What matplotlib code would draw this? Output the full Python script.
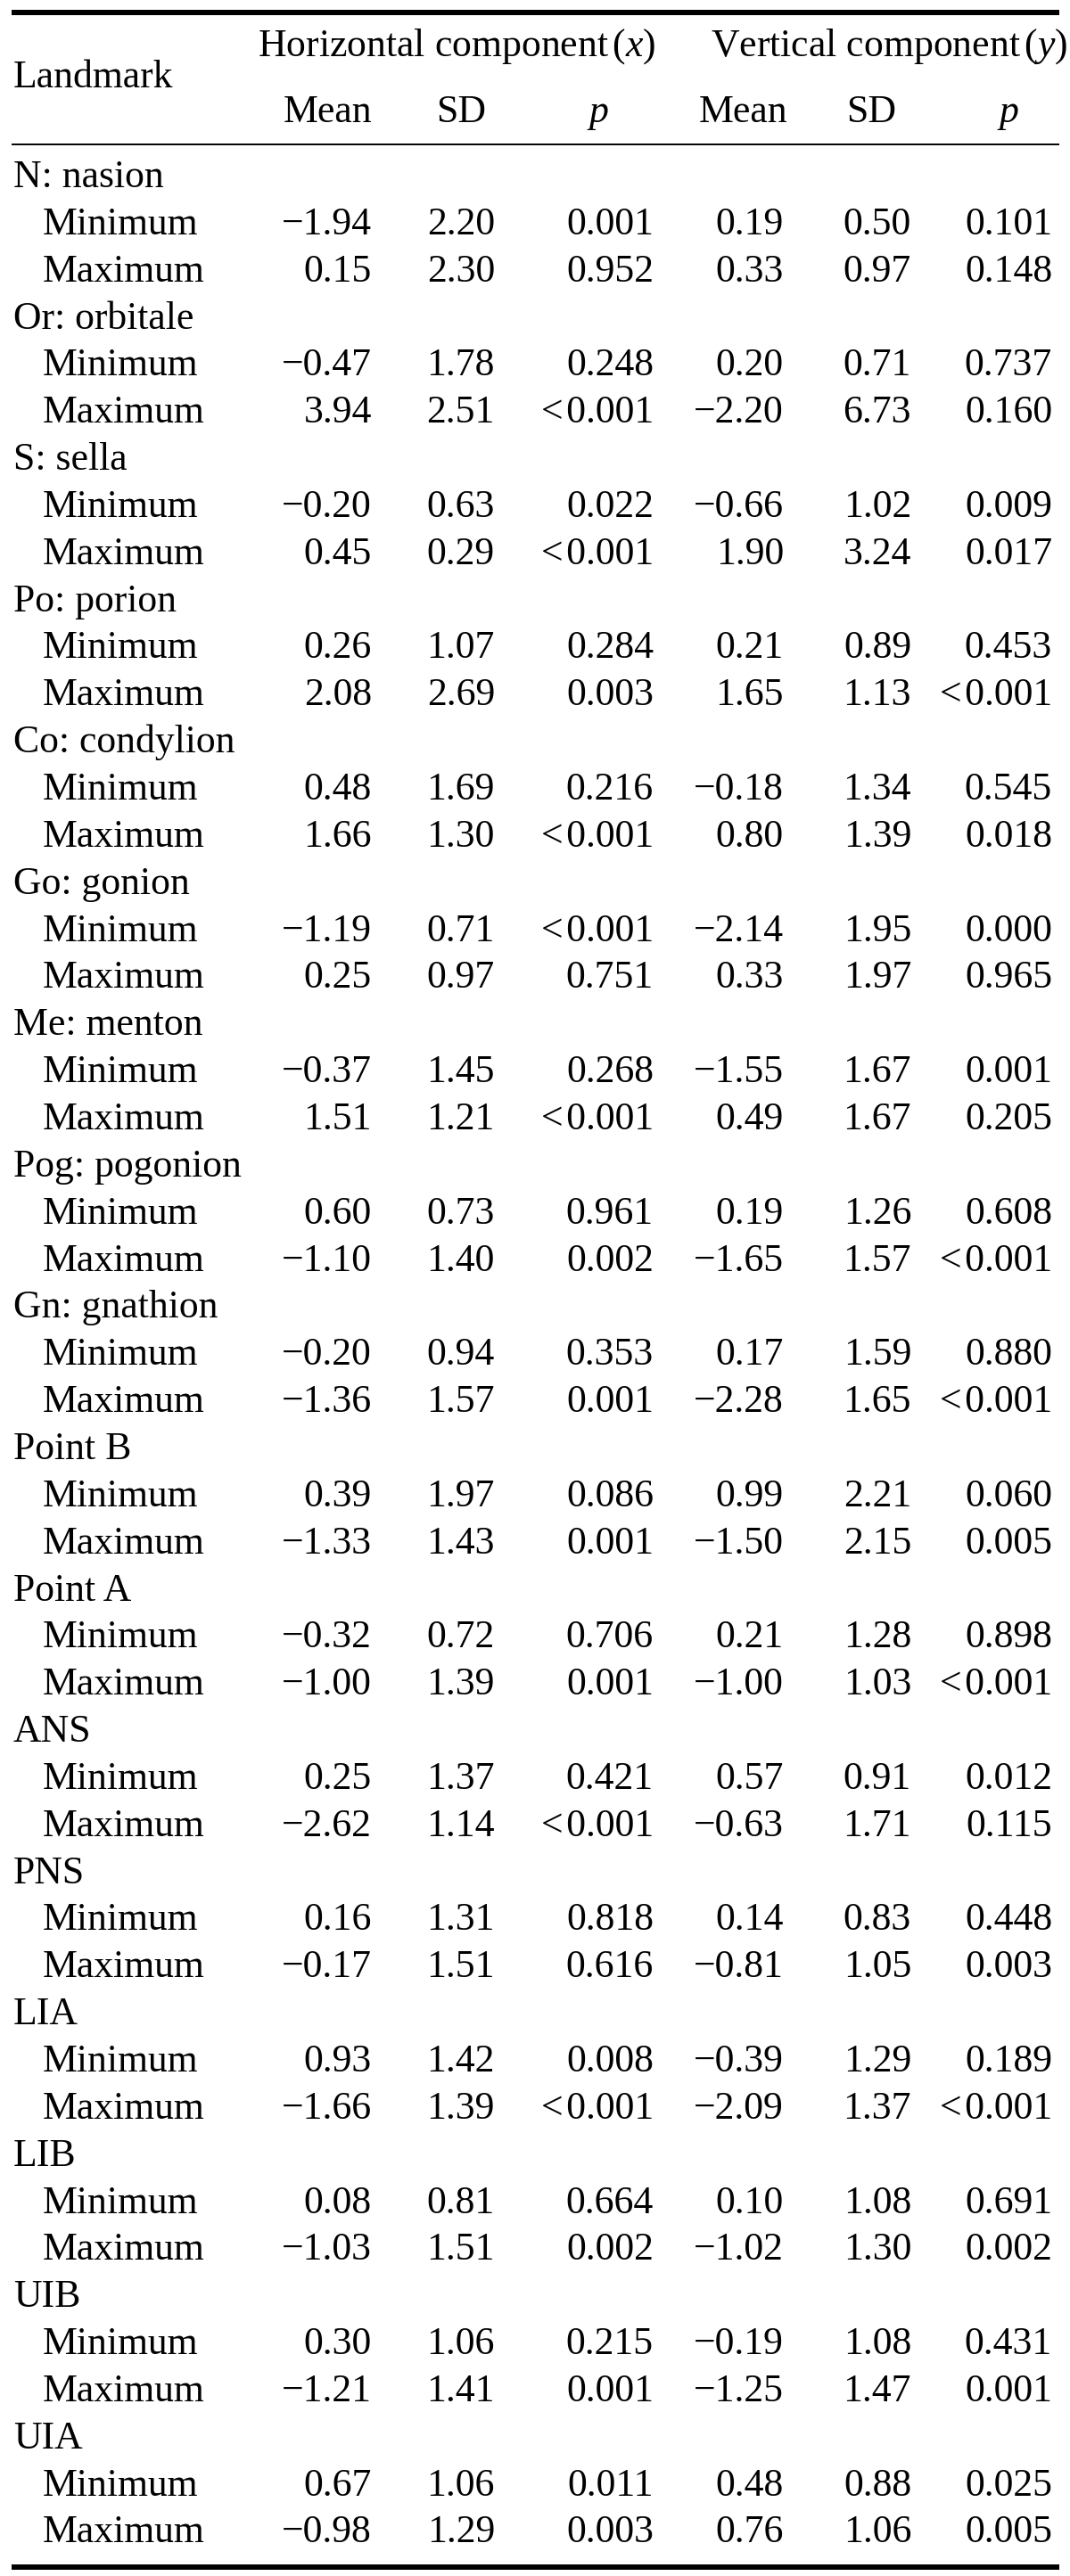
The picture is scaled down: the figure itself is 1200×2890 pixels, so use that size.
import matplotlib.pyplot as plt

plt.rcParams['font.family'] = ['Liberation Serif', 'DejaVu Serif']
plt.rcParams['mathtext.fontset'] = 'custom'
plt.rcParams['mathtext.rm'] = 'Liberation Serif'
plt.rcParams['mathtext.it'] = 'Liberation Serif:italic'

# Tabla: componentes horizontal (x) y vertical (y) por landmark
landmarks = ["N: nasion", "Or: orbitale", "S: sella", "Po: porion", "Co: condylion",
             "Go: gonion", "Me: menton", "Pog: pogonion", "Gn: gnathion", "Point B",
             "Point A", "ANS", "PNS", "LIA", "LIB", "UIB", "UIA"]
row_names = ["Minimum", "Maximum"]
col_headers = ["Mean", "SD", "p", "Mean", "SD", "p"]

# Minimum
x_mean_min = [-1.94, -0.47, -0.20, 0.26, 0.48, -1.19, -0.37, 0.60, -0.20, 0.39, -0.32, 0.25, 0.16, 0.93, 0.08, 0.30, 0.67]
x_sd_min = [2.20, 1.78, 0.63, 1.07, 1.69, 0.71, 1.45, 0.73, 0.94, 1.97, 0.72, 1.37, 1.31, 1.42, 0.81, 1.06, 1.06]
x_p_min = ["0.001", "0.248", "0.022", "0.284", "0.216", "<0.001", "0.268", "0.961", "0.353",
           "0.086", "0.706", "0.421", "0.818", "0.008", "0.664", "0.215", "0.011"]
y_mean_min = [0.19, 0.20, -0.66, 0.21, -0.18, -2.14, -1.55, 0.19, 0.17, 0.99, 0.21, 0.57, 0.14, -0.39, 0.10, -0.19, 0.48]
y_sd_min = [0.50, 0.71, 1.02, 0.89, 1.34, 1.95, 1.67, 1.26, 1.59, 2.21, 1.28, 0.91, 0.83, 1.29, 1.08, 1.08, 0.88]
y_p_min = ["0.101", "0.737", "0.009", "0.453", "0.545", "0.000", "0.001", "0.608", "0.880",
           "0.060", "0.898", "0.012", "0.448", "0.189", "0.691", "0.431", "0.025"]

# Maximum
x_mean_max = [0.15, 3.94, 0.45, 2.08, 1.66, 0.25, 1.51, -1.10, -1.36, -1.33, -1.00, -2.62, -0.17, -1.66, -1.03, -1.21, -0.98]
x_sd_max = [2.30, 2.51, 0.29, 2.69, 1.30, 0.97, 1.21, 1.40, 1.57, 1.43, 1.39, 1.14, 1.51, 1.39, 1.51, 1.41, 1.29]
x_p_max = ["0.952", "<0.001", "<0.001", "0.003", "<0.001", "0.751", "<0.001", "0.002", "0.001",
           "0.001", "0.001", "<0.001", "0.616", "<0.001", "0.002", "0.001", "0.003"]
y_mean_max = [0.33, -2.20, 1.90, 1.65, 0.80, 0.33, 0.49, -1.65, -2.28, -1.50, -1.00, -0.63, -0.81, -2.09, -1.02, -1.25, 0.76]
y_sd_max = [0.97, 6.73, 3.24, 1.13, 1.39, 1.97, 1.67, 1.57, 1.65, 2.15, 1.03, 1.71, 1.05, 1.37, 1.30, 1.47, 1.06]
y_p_max = ["0.148", "0.160", "0.017", "<0.001", "0.018", "0.965", "0.205", "<0.001", "<0.001",
           "0.005", "<0.001", "0.115", "0.003", "<0.001", "0.002", "0.001", "0.005"]


def fmt(v):
    return f"{v:.2f}".replace("-", "\u2212")


def fmt_p(s):
    return s.replace("<", "<\u200a")


fig = plt.figure(figsize=(12, 28.9), dpi=100)
ax = fig.add_axes([0, 0, 1, 1])
ax.set_xlim(0, 1200)
ax.set_ylim(2890, 0)
ax.axis('off')

fs = 31.5
col_right = [417, 555, 733, 879, 1022, 1180]
head_center = [368, 517, 672, 834, 977, 1132]
x_label = 15
x_indent = 48
y0 = 210       # linea base de la primera fila
dy = 52.85

# reglas horizontales
ax.plot([13, 1188], [13.5, 13.5], color='black', lw=4.3, solid_capstyle='butt')
ax.plot([13, 1188], [162, 162], color='black', lw=1.4, solid_capstyle='butt')
ax.plot([13, 1188], [2880, 2880], color='black', lw=4.3, solid_capstyle='butt')

# encabezado
ax.text(x_label, 98, "Landmark", fontsize=fs, ha='left', va='baseline')
ax.text(512, 63, r"Horizontal component$\,(x)$", fontsize=fs, ha='center', va='baseline')
ax.text(997, 63, r"Vertical component$\,(y)$", fontsize=fs, ha='center', va='baseline')
for i, h in enumerate(col_headers):
    ax.text(head_center[i], 137, h, fontsize=fs, ha='center', va='baseline',
            style='italic' if h == "p" else 'normal')

row = 0
for k, name in enumerate(landmarks):
    ax.text(x_label, y0 + row * dy, name, fontsize=fs, ha='left', va='baseline')
    row += 1
    vals_min = [fmt(x_mean_min[k]), fmt(x_sd_min[k]), fmt_p(x_p_min[k]),
                fmt(y_mean_min[k]), fmt(y_sd_min[k]), fmt_p(y_p_min[k])]
    vals_max = [fmt(x_mean_max[k]), fmt(x_sd_max[k]), fmt_p(x_p_max[k]),
                fmt(y_mean_max[k]), fmt(y_sd_max[k]), fmt_p(y_p_max[k])]
    for rn, vals in zip(row_names, [vals_min, vals_max]):
        y = y0 + row * dy
        ax.text(x_indent, y, rn, fontsize=fs, ha='left', va='baseline')
        for c, v in enumerate(vals):
            ax.text(col_right[c], y, v, fontsize=fs, ha='right', va='baseline')
        row += 1

fig.savefig("out.png", dpi=100)
